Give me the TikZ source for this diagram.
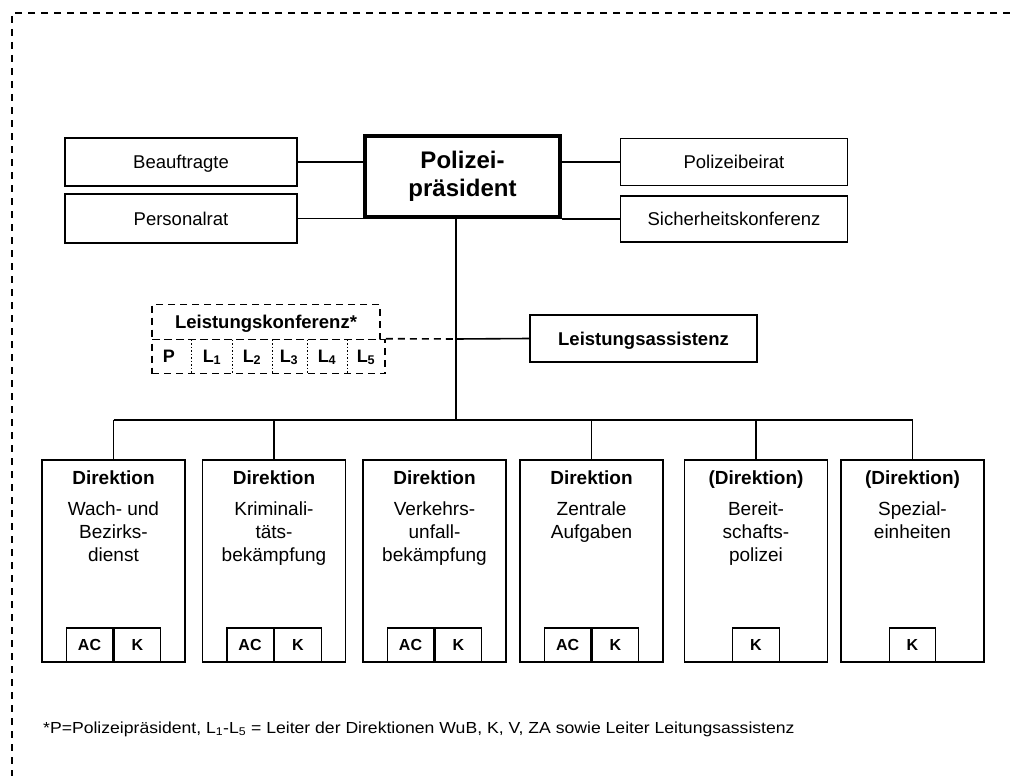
\documentclass[tikz,border=0pt]{standalone}
\usepackage{fontspec}
\setmainfont{Liberation Sans}
\newfontfamily\notefont[FakeStretch=1.1]{Liberation Sans}
\begin{document}
\begin{tikzpicture}[x=1pt,y=-1pt,
  unit/.style={draw,line width=1.6pt,inner sep=0pt,align=center,
    text height=13.3pt,text depth=0pt,
    font=\fontsize{18.5}{22}\selectfont},
  boss/.style={draw,line width=4.5pt,inner sep=0pt,align=center,
    minimum width=195pt,minimum height=81pt,
    font=\fontsize{24}{28}\selectfont\bfseries},
  dirbox/.style={draw,line width=1.6pt,inner sep=0pt,
    minimum width=143pt,minimum height=202pt},
  dirtitle/.style={inner sep=0pt,anchor=base,font=\fontsize{19}{22}\selectfont\bfseries},
  dirbody/.style={inner sep=0pt,align=center,anchor=north,
    font=\fontsize{19}{23}\selectfont},
  cell/.style={draw,line width=1.4pt,inner sep=0pt,
    minimum width=46.5pt,minimum height=34pt,
    text height=11.5pt,text depth=0pt,
    font=\fontsize{16}{18}\selectfont\bfseries},
  conf/.style={draw,line width=1.6pt,dash pattern=on 7pt off 5pt,inner sep=0pt},
  seat/.style={inner sep=0pt,anchor=base,font=\fontsize{18}{20}\selectfont\bfseries},
  sep/.style={line width=0.8pt,dash pattern=on 1.5pt off 2pt},
  link/.style={line width=1.6pt},
  dlink/.style={line width=1.6pt,dash pattern=on 7pt off 5pt},
  frame/.style={line width=2pt,dash pattern=on 7pt off 6pt}]

\useasboundingbox (0,0) rectangle (1010,776);

% outer frame (top and left edges)
\coordinate (fc) at (12,13);
\coordinate (fr) at (1010,13);
\coordinate (fb) at (12,776);
\draw[frame] (fr) -- (fc) -- (fb);

% top level
\node[boss] (pp) at (462.5,176.5) {Polizei-\\präsident};
\node[unit,minimum width=232pt,minimum height=48pt] (beauf) at (181,162) {Beauftragte};
\node[unit,minimum width=232pt,minimum height=49pt] (prat) at (181,218.5) {Personalrat};
\node[unit,minimum width=227pt,minimum height=47pt] (beirat) at (734,162) {Polizeibeirat};
\node[unit,minimum width=227pt,minimum height=46pt] (sk) at (734,219) {Sicherheitskonferenz};

\draw[link] (beauf.east) -- (beauf.east -| pp.west);
\draw[link] (prat.east) -- (prat.east -| pp.west);
\draw[link] (beirat.west) -- (beirat.west -| pp.east);
\draw[link] (sk.west) -- (sk.west -| pp.east);

% staff level
\coordinate (hub) at (456,420);
\coordinate (mid) at (456,339);
\node[unit,font=\fontsize{18.5}{22}\selectfont\bfseries,
  minimum width=227pt,minimum height=47pt] (la) at (643.5,338.5) {Leistungsassistenz};

\node[conf,minimum width=228pt,minimum height=35pt,
  text height=13.3pt,text depth=0pt] (lk) at (266,322)
  {\fontsize{18.5}{22}\selectfont\bfseries Leistungskonferenz*};
\node[conf,minimum width=233pt,minimum height=34pt] (lkrow) at (268.5,356.5) {};
\draw[sep] (191,339.5) -- (191,373.5);
\draw[sep] (232,339.5) -- (232,373.5);
\draw[sep] (272,339.5) -- (272,373.5);
\draw[sep] (307,339.5) -- (307,373.5);
\draw[sep] (347,339.5) -- (347,373.5);
\node[seat] (sp)  at (169,362) {P};
\node[seat] (s1) at (212,362) {L\textsubscript{1}};
\node[seat] (s2) at (252,362) {L\textsubscript{2}};
\node[seat] (s3) at (289,362) {L\textsubscript{3}};
\node[seat] (s4) at (327,362) {L\textsubscript{4}};
\node[seat] (s5) at (366,362) {L\textsubscript{5}};

\draw[link] (hub |- pp.south) -- (hub);
\draw[link] (mid) -- (la.west);
\draw[dlink] (lkrow.north east) -- (mid);

% directorates
\foreach \n/\x in {1/113.5,2/274,3/434.5,4/591.5,5/756,6/912.5}
  \node[dirbox] (d\n) at (\x,561) {};

\node[dirtitle] at (d1.north |- 0,484) {Direktion};
\node[dirtitle] at (d2.north |- 0,484) {Direktion};
\node[dirtitle] at (d3.north |- 0,484) {Direktion};
\node[dirtitle] at (d4.north |- 0,484) {Direktion};
\node[dirtitle] at (d5.north |- 0,484) {(Direktion)};
\node[dirtitle] at (d6.north |- 0,484) {(Direktion)};

\node[dirbody] at (d1.north |- 0,502) {Wach- und\\Bezirks-\\dienst};
\node[dirbody] at (d2.north |- 0,502) {Kriminali-\\täts-\\bekämpfung};
\node[dirbody] at (d3.north |- 0,502) {Verkehrs-\\unfall-\\bekämpfung};
\node[dirbody] at (d4.north |- 0,502) {Zentrale\\Aufgaben};
\node[dirbody] at (d5.north |- 0,502) {Bereit-\\schafts-\\polizei};
\node[dirbody] at (d6.north |- 0,502) {Spezial-\\einheiten};

% sub units
\foreach \n in {1,2,3,4}{
  \node[cell,anchor=south east] (ac\n) at (d\n.south) {AC};
  \node[cell,anchor=south west] (k\n) at (d\n.south) {K};
}
\node[cell,anchor=south] (k5) at (d5.south) {K};
\node[cell,anchor=south] (k6) at (d6.south) {K};

% branch lines
\coordinate (busL) at (d1.north |- hub);
\coordinate (busR) at (d6.north |- hub);
\draw[link] (busL) -- (busR);
\draw[link] (busL) -- (d1.north);
\draw[link] (d2.north |- hub) -- (d2.north);
\draw[link] (d4.north |- hub) -- (d4.north);
\draw[link] (d5.north |- hub) -- (d5.north);
\draw[link] (busR) -- (d6.north);

% footnote
\node[anchor=west,inner sep=0pt,font=\notefont\fontsize{16}{18}\selectfont] (note) at (43,729)
  {*P=Polizeipräsident, L\textsubscript{1}-L\textsubscript{5} = Leiter der Direktionen WuB, K, V, ZA sowie Leiter Leitungsassistenz};
\end{tikzpicture}
\end{document}
